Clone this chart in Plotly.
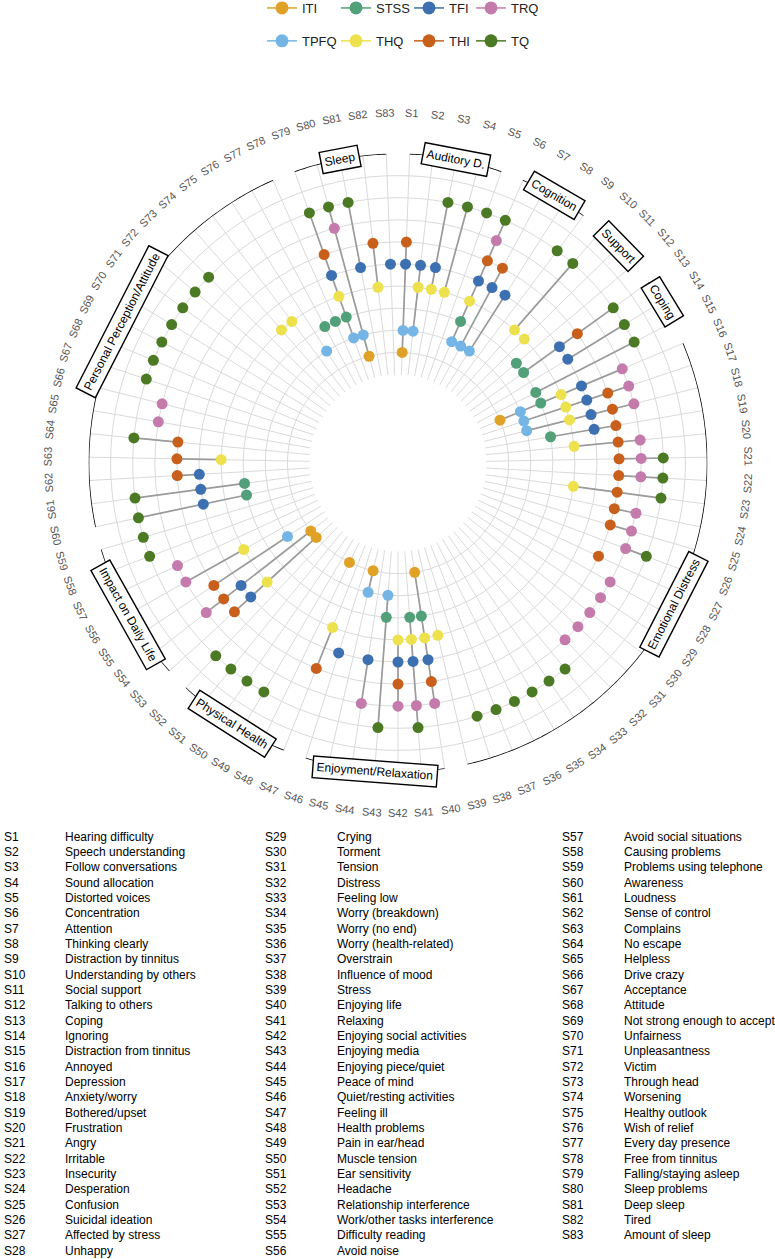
import numpy as np
import plotly.graph_objects as go

W, H = 775, 1259
CX, CY = 398, 463          # centre of the polar plot (px)
R_OUT = 309.5              # outer radius (px)
R_HOLE = 88.5              # inner hole radius (px)

# ---------------- data ----------------
codes = [f"S{i}" for i in range(1, 84)]
names = [
    "Hearing difficulty", "Speech understanding", "Follow conversations", "Sound allocation",
    "Distorted voices", "Concentration", "Attention", "Thinking clearly", "Distraction by tinnitus",
    "Understanding by others", "Social support", "Talking to others", "Coping", "Ignoring",
    "Distraction from tinnitus", "Annoyed", "Depression", "Anxiety/worry", "Bothered/upset",
    "Frustration", "Angry", "Irritable", "Insecurity", "Desperation", "Confusion",
    "Suicidal ideation", "Affected by stress", "Unhappy", "Crying", "Torment", "Tension",
    "Distress", "Feeling low", "Worry (breakdown)", "Worry (no end)", "Worry (health-related)",
    "Overstrain", "Influence of mood", "Stress", "Enjoying life", "Relaxing",
    "Enjoying social activities", "Enjoying media", "Enjoying piece/quiet", "Peace of mind",
    "Quiet/resting activities", "Feeling ill", "Health problems", "Pain in ear/head",
    "Muscle tension", "Ear sensitivity", "Headache", "Relationship interference",
    "Work/other tasks interference", "Difficulty reading", "Avoid noise", "Avoid social situations",
    "Causing problems", "Problems using telephone", "Awareness", "Loudness", "Sense of control",
    "Complains", "No escape", "Helpless", "Drive crazy", "Acceptance", "Attitude",
    "Not strong enough to accept", "Unfairness", "Unpleasantness", "Victim", "Through head",
    "Worsening", "Healthy outlook", "Wish of relief", "Every day presence", "Free from tinnitus",
    "Falling/staying asleep", "Sleep problems", "Deep sleep", "Tired", "Amount of sleep",
]

# questionnaires from the inner ring to the outer ring
questionnaires = ["ITI", "TPFQ", "STSS", "THQ", "TFI", "THI", "TRQ", "TQ"]
ring_level = [1, 2, 3, 4, 5, 6, 7, 8]

# symptoms (S-numbers) covered by each questionnaire
cov_ITI = [1, 16, 40, 45, 48, 53, 54, 80]
cov_TPFQ = [1, 2, 6, 7, 8, 16, 17, 18, 43, 45, 55, 76, 79, 80]
cov_STSS = [6, 12, 13, 15, 16, 19, 40, 41, 43, 60, 61, 77, 78, 79]
cov_THQ = [2, 3, 4, 6, 10, 11, 16, 17, 18, 20, 23, 39, 40, 41, 42, 47, 53, 56, 63, 74, 75, 79, 82]
cov_TFI = [1, 2, 3, 6, 7, 8, 13, 14, 16, 17, 18, 19, 40, 41, 42, 44, 46, 53, 54, 60, 61, 62,
           79, 81, 83]
cov_THI = [1, 6, 7, 13, 17, 18, 19, 20, 21, 22, 23, 24, 25, 27, 40, 42, 47, 53, 54, 55, 62, 63,
           64, 79, 82]
cov_TRQ = [6, 16, 17, 18, 20, 21, 22, 24, 25, 26, 28, 29, 30, 31, 32, 40, 41, 42, 44, 54, 56,
           57, 65, 66, 80]
cov_TQ = [3, 4, 5, 6, 9, 10, 13, 14, 15, 21, 22, 23, 26, 33, 34, 35, 36, 37, 38, 41, 43, 49, 50,
          51, 52, 58, 59, 60, 61, 64, 67, 68, 69, 70, 71, 72, 73, 79, 80, 81]
coverage = [cov_ITI, cov_TPFQ, cov_STSS, cov_THQ, cov_TFI, cov_THI, cov_TRQ, cov_TQ]

colors = ["#E0A226", "#74B5E6", "#52A07A", "#EEE14E", "#3D70B1", "#C8601C", "#C47BAB", "#4C7A24"]

# legend columns (column-major: two rows)
legend_cols = [["ITI", "TPFQ"], ["STSS", "THQ"], ["TFI", "THI"], ["TRQ", "TQ"]]

group_names = ["Auditory D.", "Cognition", "Support", "Coping", "Emotional Distress",
               "Enjoyment/Relaxation", "Physical Health", "Impact on Daily Life",
               "Personal Perception/Attitude", "Sleep"]
group_first = [1, 6, 10, 13, 16, 40, 47, 53, 60, 79]
group_last = [5, 9, 12, 15, 39, 46, 52, 59, 78, 83]

# ---------------- helpers ----------------
N = len(codes)
STEP = 360.0 / N


def theta_of(s):
    return (s - 0.5) * STEP


def paper_xy(theta_deg, r_px):
    t = np.deg2rad(theta_deg)
    x = CX + r_px * np.sin(t)
    y = CY - r_px * np.cos(t)
    return x / W, 1 - y / H


def tangential_angle(theta_deg, lo=90, hi=270):
    if lo < theta_deg < hi:
        return theta_deg - 180
    if theta_deg >= hi:
        return theta_deg - 360
    return theta_deg


fig = go.Figure()

# gray segments (min to max ring for each symptom)
seg_r, seg_t = [], []
for s in range(1, N + 1):
    lv = [ring_level[q] for q in range(len(questionnaires)) if s in coverage[q]]
    if len(lv) >= 2:
        seg_r += [min(lv), max(lv), None]
        seg_t += [theta_of(s), theta_of(s), None]
fig.add_trace(go.Scatterpolar(r=seg_r, theta=seg_t, mode="lines",
                              line=dict(color="#9b9b9b", width=1.7),
                              showlegend=False, hoverinfo="skip"))

# dots
for q, name in enumerate(questionnaires):
    fig.add_trace(go.Scatterpolar(
        r=[ring_level[q]] * len(coverage[q]),
        theta=[theta_of(s) for s in coverage[q]],
        mode="markers", name=name, showlegend=False,
        marker=dict(color=colors[q], size=11, line=dict(width=0)),
    ))

# group arcs
arc_r, arc_t = [], []
for g in range(len(group_names)):
    t0, t1 = theta_of(group_first[g]), theta_of(group_last[g])
    ts = list(np.linspace(t0, t1, max(2, int((t1 - t0) * 2) + 2)))
    arc_t += ts + [None]
    arc_r += [10] * len(ts) + [None]
fig.add_trace(go.Scatterpolar(r=arc_r, theta=arc_t, mode="lines",
                              line=dict(color="black", width=1.6),
                              showlegend=False, hoverinfo="skip", cliponaxis=False))

# legend entries (dummy traces, one legend per column)
for c, col in enumerate(legend_cols):
    for name in col:
        q = questionnaires.index(name)
        fig.add_trace(go.Scatterpolar(
            r=[None], theta=[None], mode="lines+markers", name=name,
            legend="legend" if c == 0 else f"legend{c + 1}", legendgroup=name,
            line=dict(color=colors[q], width=1.5),
            marker=dict(color=colors[q], size=13),
        ))

annotations = []
# category labels
for s in range(1, N + 1):
    th = theta_of(s)
    x, y = paper_xy(th, 350)
    annotations.append(dict(x=x, y=y, xref="paper", yref="paper", text=codes[s - 1],
                            showarrow=False, textangle=tangential_angle(th, 90, 260),
                            font=dict(size=11, color="#555555"),
                            xanchor="center", yanchor="middle"))
# group labels
for g in range(len(group_names)):
    th = (theta_of(group_first[g]) + theta_of(group_last[g])) / 2
    x, y = paper_xy(th, R_OUT)
    annotations.append(dict(x=x, y=y, xref="paper", yref="paper", text=group_names[g],
                            showarrow=False, textangle=tangential_angle(th),
                            font=dict(size=12, color="black"),
                            bgcolor="white", bordercolor="black", borderwidth=1.4, borderpad=3,
                            xanchor="center", yanchor="middle"))
# description table
col_code_x = [2, 263, 560]
col_name_x = [63, 335, 622]
rows_per_col = 28
for i in range(N):
    c, j = divmod(i, rows_per_col)
    ypx = 836.7 + 15.33 * j
    for xx, txt in ((col_code_x[c], codes[i]), (col_name_x[c], names[i])):
        annotations.append(dict(x=xx / W, y=1 - ypx / H, xref="paper", yref="paper", text=txt,
                                showarrow=False, font=dict(size=12, color="black"),
                                xanchor="left", yanchor="middle"))

legend_x_px = [262, 336, 409, 471]
legend_common = dict(orientation="v", xanchor="left", yanchor="top", tracegroupgap=13,
                     font=dict(size=13, color="#222222"), bgcolor="rgba(0,0,0,0)",
                     itemclick=False, itemdoubleclick=False)
legends = {}
for c in range(4):
    key = "legend" if c == 0 else f"legend{c + 1}"
    legends[key] = dict(x=legend_x_px[c] / W, y=1 + 7 / H, **legend_common)

fig.update_layout(
    width=W, height=H, margin=dict(l=0, r=0, t=0, b=0, autoexpand=False),
    paper_bgcolor="white", plot_bgcolor="white",
    font=dict(family="Liberation Sans, Arial, sans-serif"),
    polar=dict(
        domain=dict(x=[(CX - R_OUT) / W, (CX + R_OUT) / W],
                    y=[1 - (CY + R_OUT) / H, 1 - (CY - R_OUT) / H]),
        hole=R_HOLE / R_OUT,
        bgcolor="white",
        radialaxis=dict(range=[0, 10], tickmode="array", tickvals=list(range(0, 10)),
                        showticklabels=False, ticks="", showline=False,
                        gridcolor="#dadada", gridwidth=0.8),
        angularaxis=dict(type="linear", thetaunit="degrees", direction="clockwise", rotation=90,
                         tickmode="array", tickvals=[theta_of(s) for s in range(1, N + 1)],
                         showticklabels=False, ticks="", showline=False,
                         gridcolor="#dadada", gridwidth=0.8),
    ),
    annotations=annotations,
    **legends,
)

fig.write_html("out.html")
